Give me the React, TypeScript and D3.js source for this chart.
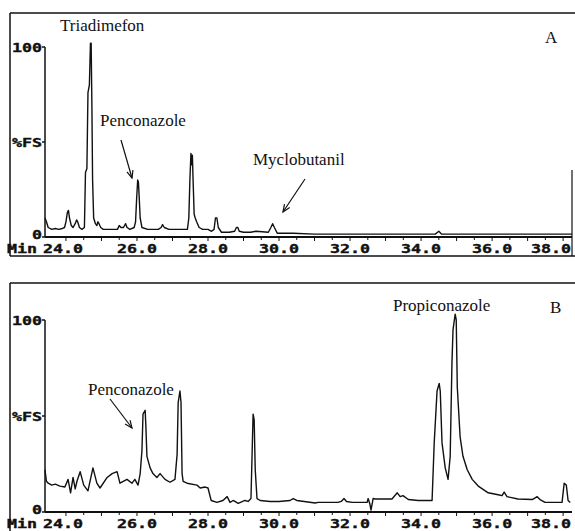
import React, { useRef, useEffect } from 'react';
import * as d3 from 'd3';

// retention time (min), intensity (%FS)
const chromA: [number, number][] = [
  [23.41, 10], [23.45, 8], [23.5, 5], [23.6, 4], [23.7, 4.5], [23.8, 4], [23.9, 4.5], [23.96, 5],
  [24.0, 8], [24.04, 13], [24.07, 14], [24.1, 10], [24.15, 6], [24.2, 5], [24.26, 7], [24.3, 9],
  [24.33, 8], [24.38, 5], [24.45, 4], [24.52, 5], [24.55, 34], [24.59, 36], [24.62, 76], [24.66, 80],
  [24.69, 102], [24.71, 102], [24.73, 70], [24.75, 30], [24.78, 10], [24.83, 7], [24.87, 6], [24.9, 8],
  [24.93, 7], [24.98, 5], [25.05, 4], [25.2, 4], [25.35, 4], [25.45, 4], [25.5, 6], [25.55, 5],
  [25.62, 5], [25.68, 7], [25.72, 5], [25.8, 4], [25.92, 5], [25.96, 8], [25.99, 20], [26.02, 30],
  [26.04, 29], [26.06, 22], [26.09, 10], [26.14, 5], [26.3, 4], [26.6, 4], [26.68, 5], [26.72, 6.5],
  [26.77, 5], [26.9, 4], [27.2, 4], [27.42, 4], [27.46, 10], [27.49, 30], [27.52, 44], [27.54, 38],
  [27.56, 43], [27.58, 30], [27.61, 12], [27.64, 10], [27.68, 8], [27.75, 5], [27.85, 4], [28.0, 4],
  [28.1, 3], [28.17, 4], [28.21, 10], [28.25, 10], [28.29, 5], [28.38, 2.5], [28.6, 2.5], [28.75, 3],
  [28.8, 5], [28.84, 5], [28.88, 3], [29.0, 2.5], [29.2, 2.5], [29.35, 3], [29.7, 2.5], [29.77, 5],
  [29.82, 7], [29.87, 5], [29.95, 2], [30.4, 2], [31.0, 1.5], [32.0, 1.5], [33.0, 1.5], [34.4, 1.5],
  [34.5, 3], [34.58, 1.5], [35.5, 1.5], [36.5, 1.5], [37.5, 1.5], [38.25, 1.5]
];

const chromB: [number, number][] = [
  [23.41, 22], [23.45, 16], [23.5, 15], [23.6, 14], [23.7, 14.5], [23.83, 13.5], [23.97, 13], [24.06, 17],
  [24.13, 10], [24.2, 18], [24.26, 12], [24.31, 16], [24.4, 21], [24.5, 14], [24.62, 11], [24.76, 23],
  [24.87, 15], [24.96, 12.5], [25.16, 18], [25.3, 20], [25.44, 21], [25.52, 15], [25.72, 17], [25.86, 15],
  [25.94, 17], [26.03, 14], [26.09, 20], [26.14, 32], [26.17, 51], [26.23, 53], [26.25, 45], [26.28, 29],
  [26.37, 23], [26.45, 20], [26.56, 18], [26.65, 20], [26.79, 17], [26.93, 15.5], [27.07, 17], [27.13, 30],
  [27.16, 57], [27.21, 63], [27.24, 57], [27.27, 20], [27.3, 16], [27.41, 15], [27.69, 14], [27.78, 12.5],
  [27.92, 13], [28.0, 12.5], [28.09, 6], [28.25, 5], [28.42, 6], [28.54, 8], [28.62, 5], [28.71, 6],
  [28.85, 4.5], [29.04, 6], [29.13, 5.5], [29.21, 7], [29.24, 29], [29.27, 51], [29.3, 48], [29.33, 22],
  [29.38, 7], [29.47, 6], [29.75, 5.5], [30.0, 5.5], [30.31, 6], [30.4, 7], [30.5, 6], [31.02, 4.7],
  [31.1, 5], [31.66, 5], [31.75, 5.5], [31.83, 7], [31.9, 5.5], [32.06, 5], [32.48, 5], [32.51, 7],
  [32.56, 4], [32.59, 1], [32.62, 4], [32.65, 7], [32.71, 6.8], [33.18, 6.8], [33.33, 10], [33.41, 8],
  [33.49, 8.5], [33.64, 6.5], [33.92, 6], [34.31, 6], [34.37, 36], [34.45, 63], [34.51, 67], [34.54, 63],
  [34.59, 36], [34.68, 23], [34.76, 17], [34.82, 29], [34.87, 78], [34.9, 95], [34.96, 103], [34.99, 100],
  [35.02, 65], [35.1, 39], [35.18, 29], [35.3, 22], [35.44, 17], [35.61, 13.5], [35.89, 10], [36.17, 9],
  [36.28, 8.5], [36.34, 10.4], [36.42, 8], [36.73, 6.8], [37.13, 6.5], [37.27, 8], [37.35, 6.5], [37.49, 5],
  [37.97, 5], [38.03, 15], [38.09, 14], [38.14, 6], [38.2, 5]
];

const xTicks = [24, 26, 28, 30, 32, 34, 36, 38];
const xTickLabels = ['24.0', '26.0', '28.0', '30.0', '32.0', '34.0', '36.0', '38.0'];
const yTicks = [100, 50, 0];
const yTickLabels = ['100', '%FS', '0'];
const timeRange = [23.41, 38.25];

const panels = [
  {
    id: 'A', data: chromA, top: 47, bottom: 237, frameTop: 13, frameBottom: 256,
    labels: [
      { text: 'Triadimefon', x: 60, y: 31 },
      { text: 'Penconazole', x: 100, y: 126 },
      { text: 'Myclobutanil', x: 253, y: 165 },
      { text: 'A', x: 545, y: 43 }
    ],
    arrows: [[121, 140, 132, 178], [305, 179, 283, 212]]
  },
  {
    id: 'B', data: chromB, top: 320, bottom: 512, frameTop: 283, frameBottom: 545,
    labels: [
      { text: 'Penconazole', x: 88, y: 395 },
      { text: 'Propiconazole', x: 393, y: 311 },
      { text: 'B', x: 550, y: 313 }
    ],
    arrows: [[110, 399, 132, 428]]
  }
];

const W = 575;
const H = 531;
const left = 45;
const right = 572;
const ink = '#111';
const mono = '"DejaVu Sans Mono", monospace';
const serif = '"Liberation Serif", "Times New Roman", serif';

const App = () => {
  const svgRef = useRef(null);

  useEffect(() => {
    const svg = d3.select(svgRef.current);
    svg.selectAll('*').remove();
    svg.append('rect').attr('width', W).attr('height', H).attr('fill', '#fff');

    const x = d3.scaleLinear().domain(timeRange).range([left, right]);

    const monoText = (g, txt, tx, ty, anchor) => {
      g.append('text')
        .attr('transform', `translate(${tx},${ty}) scale(1.45,1)`)
        .attr('text-anchor', anchor)
        .style('font-family', mono)
        .style('font-weight', 'bold')
        .style('font-size', '11.5px')
        .attr('fill', ink)
        .attr('stroke', ink)
        .attr('stroke-width', 0.35)
        .text(txt);
    };

    panels.forEach(p => {
      const g = svg.append('g');
      const y = d3.scaleLinear().domain([0, 100]).range([p.bottom, p.top]);

      // scanned frame
      g.append('line').attr('x1', 10).attr('x2', 575).attr('y1', p.frameTop).attr('y2', p.frameTop)
        .attr('stroke', ink).attr('stroke-width', 1.5);
      g.append('line').attr('x1', 10).attr('x2', 10).attr('y1', p.frameTop).attr('y2', p.frameBottom)
        .attr('stroke', ink).attr('stroke-width', 1.5);
      if (p.id === 'A') {
        g.append('line').attr('x1', 10).attr('x2', 575).attr('y1', p.frameBottom).attr('y2', p.frameBottom)
          .attr('stroke', ink).attr('stroke-width', 1.5);
        g.append('line').attr('x1', 572).attr('x2', 572).attr('y1', 170).attr('y2', p.frameBottom)
          .attr('stroke', ink).attr('stroke-width', 1.2);
      }

      // y axis
      g.append('line').attr('x1', left).attr('x2', left).attr('y1', y(100)).attr('y2', y(0))
        .attr('stroke', ink).attr('stroke-width', 1.5);
      yTicks.forEach((v, i) => {
        g.append('line').attr('x1', left - 3).attr('x2', left).attr('y1', y(v)).attr('y2', y(v))
          .attr('stroke', ink).attr('stroke-width', 1.5);
        const dy = v === 0 ? 2 : 5;
        monoText(g, yTickLabels[i], left - 3, y(v) + dy, 'end');
      });

      // x axis
      g.append('line').attr('x1', left).attr('x2', right).attr('y1', y(0)).attr('y2', y(0))
        .attr('stroke', ink).attr('stroke-width', 2);
      d3.range(24, 38.3, 0.5).forEach(t => {
        const len = Number.isInteger(t) ? 4 : 3;
        g.append('line').attr('x1', x(t)).attr('x2', x(t)).attr('y1', y(0)).attr('y2', y(0) + len)
          .attr('stroke', ink).attr('stroke-width', 1);
      });
      monoText(g, 'Min', 7, y(0) + 16, 'start');
      xTicks.forEach((t, i) => {
        let cx = x(t);
        if (i === 0) cx -= 3;
        if (i === xTicks.length - 1) cx = Math.min(cx, right - 21);
        monoText(g, xTickLabels[i], cx, y(0) + 16, 'middle');
      });

      // trace
      const line = d3.line<[number, number]>().x(d => x(d[0])).y(d => y(d[1]));
      g.append('path').datum(p.data).attr('d', line).attr('fill', 'none')
        .attr('stroke', ink).attr('stroke-width', 1.4).attr('stroke-linejoin', 'round');

      // annotations
      p.labels.forEach(l => {
        g.append('text').attr('x', l.x).attr('y', l.y)
          .style('font-family', serif).style('font-size', '17px').attr('fill', ink)
          .text(l.text);
      });
      p.arrows.forEach(([x1, y1, x2, y2]) => {
        g.append('line').attr('x1', x1).attr('y1', y1).attr('x2', x2).attr('y2', y2)
          .attr('stroke', ink).attr('stroke-width', 1.2);
        const a = Math.atan2(y2 - y1, x2 - x1);
        const hl = 8;
        const pts = [a + Math.PI - 0.4, a + Math.PI + 0.4].map(b => [x2 + hl * Math.cos(b), y2 + hl * Math.sin(b)]);
        g.append('path')
          .attr('d', `M${pts[0][0]},${pts[0][1]}L${x2},${y2}L${pts[1][0]},${pts[1][1]}`)
          .attr('fill', 'none').attr('stroke', ink).attr('stroke-width', 1.2);
      });
    });
  }, []);

  return (
    <div style={{ position: 'absolute', left: 0, top: 0, width: W, height: H }}>
      <svg ref={svgRef} width={W} height={H} style={{ display: 'block' }}></svg>
    </div>
  );
};

export default App;
